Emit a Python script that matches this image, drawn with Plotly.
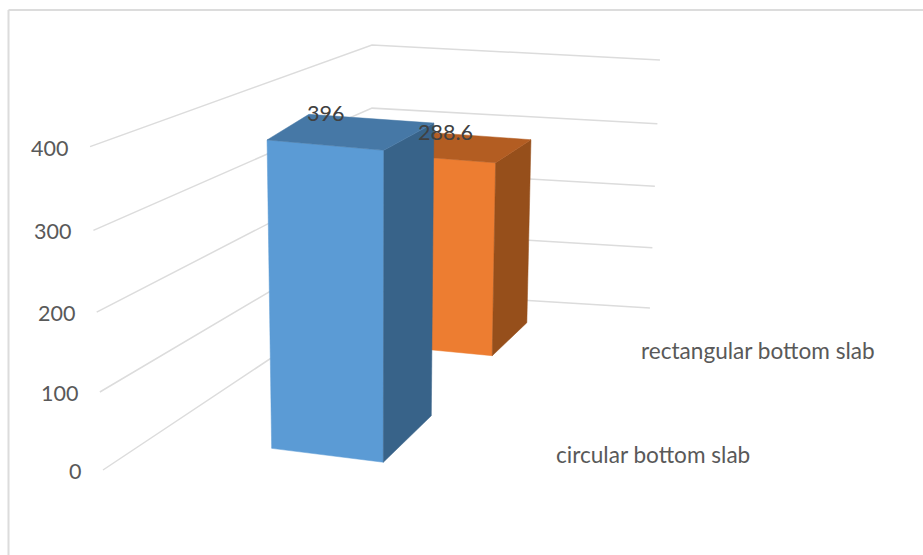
import numpy as np
import plotly.graph_objects as go

# Chart data
series_names = ["circular bottom slab", "rectangular bottom slab"]
series_values = [396, 288.6]
value_labels = ["396", "288.6"]
axis_ticks = [0, 100, 200, 300, 400]
axis_max = 400

# Perspective camera: maps (width, depth, value / axis_max) to page pixels
CAMERA = np.array([
    [271.4, -294.75, -12.8, 372.0],
    [13.9, 61.5, -247.55, 291.0],
    [-0.0101, -0.25, -0.0344, 1.0],
])

# Bar footprints on the floor: front-left, front-right, back-right, back-left
FOOTPRINTS = {
    "circular bottom slab": [(0.353, 0.869), (0.688, 0.895), (0.676, 0.680), (0.305, 0.665)],
    "rectangular bottom slab": [(0.300, 0.335), (0.655, 0.354), (0.645, 0.145), (0.290, 0.130)],
}
FACE_COLORS = {
    "circular bottom slab": {"front": "#5B9BD5", "side": "#386389", "top": "#4678A6"},
    "rectangular bottom slab": {"front": "#ED7D31", "side": "#964F1B", "top": "#B35D22"},
}
LABEL_POS = {
    "circular bottom slab": (554.5, 454.5),
    "rectangular bottom slab": (639.5, 350.5),
}
VALUE_POS = [(325, 112.5), (445, 131.5)]

GRID = "#DCDCDC"
TEXT = "#595959"
FONT = "Lato"
LABEL_SIZE = 22.6
TICK_SIZE = 21.5


def project(x, y, value):
    """Project a point of the plot box to page coordinates."""
    u, v, w = CAMERA @ np.array([x, y, value / axis_max, 1.0])
    return u / w, v / w


def polygon(points):
    xs, ys = zip(*[project(*p) for p in points])
    return list(xs) + [xs[0]], list(ys) + [ys[0]]


fig = go.Figure()

# Value gridlines across the left and back walls
for tick in axis_ticks:
    pts = [project(0, 1, tick), project(0, 0, tick), project(1, 0, tick)]
    xs, ys = zip(*pts)
    fig.add_trace(go.Scatter(x=xs, y=ys, mode="lines", hoverinfo="skip",
                             line=dict(color=GRID, width=1.5)))

# Bars, drawn from the back of the box to the front
for name, value in reversed(list(zip(series_names, series_values))):
    fl, fr, br, bl = FOOTPRINTS[name]
    faces = {
        "front": [(*fl, 0), (*fr, 0), (*fr, value), (*fl, value)],
        "side": [(*fr, 0), (*br, 0), (*br, value), (*fr, value)],
        "top": [(*fl, value), (*fr, value), (*br, value), (*bl, value)],
    }
    for face, points in faces.items():
        xs, ys = polygon(points)
        fig.add_trace(go.Scatter(
            x=xs, y=ys, mode="lines", fill="toself",
            fillcolor=FACE_COLORS[name][face],
            line=dict(color=FACE_COLORS[name][face], width=0.5),
            name=name, hovertemplate=f"{name}: {value}<extra></extra>",
        ))

annotations = []


def add_text(x, y, text, size, color=TEXT, anchor="left"):
    annotations.append(dict(x=x, y=y, text=text, showarrow=False, xanchor=anchor,
                            yanchor="middle", borderpad=0,
                            font=dict(family=FONT, size=size, color=color)))


# Value axis labels sit just off the front-left end of each gridline
for tick in axis_ticks:
    px, py = project(0, 1, tick)
    add_text(px - 21, py + 1, str(tick), TICK_SIZE, anchor="right")

# Series names along the floor edge
for name in series_names:
    add_text(*LABEL_POS[name], name, LABEL_SIZE)

# Values above each bar
for (px, py), text in zip(VALUE_POS, value_labels):
    add_text(px, py, text, TICK_SIZE, color="#404040", anchor="center")

fig.update_layout(
    width=923, height=555, margin=dict(l=0, r=0, t=0, b=0),
    paper_bgcolor="white", plot_bgcolor="white", showlegend=False,
    xaxis=dict(range=[0, 923], visible=False, fixedrange=True),
    yaxis=dict(range=[555, 0], visible=False, fixedrange=True),
    annotations=annotations,
    shapes=[
        dict(type="line", xref="x", yref="y", x0=8.5, x1=8.5, y0=10, y1=555,
             line=dict(color=GRID, width=2)),
        dict(type="line", xref="x", yref="y", x0=8.5, x1=923, y0=10, y1=10,
             line=dict(color=GRID, width=2)),
    ],
)

fig.write_html("out.html")
